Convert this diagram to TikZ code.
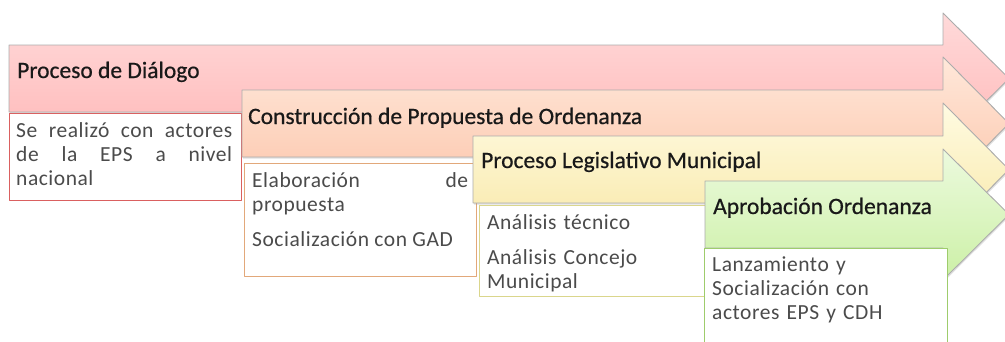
\documentclass[tikz,border=0pt]{standalone}
\usepackage{fontspec}
\setmainfont{Carlito}
\newfontfamily\notefont[LetterSpace=2.5]{Carlito}
\newfontfamily\titlefont[FakeBold=0.6]{Carlito}
\usetikzlibrary{shadows}

\definecolor{redtop}{RGB}{255,218,218}
\definecolor{redbot}{RGB}{255,184,184}
\definecolor{peachtop}{RGB}{255,232,218}
\definecolor{peachbot}{RGB}{252,198,172}
\definecolor{yellowtop}{RGB}{255,251,226}
\definecolor{yellowbot}{RGB}{248,232,168}
\definecolor{greentop}{RGB}{236,250,222}
\definecolor{greenbot}{RGB}{204,240,166}
\definecolor{redline}{RGB}{218,96,96}
\definecolor{peachline}{RGB}{226,168,122}
\definecolor{yellowline}{RGB}{218,214,140}
\definecolor{greenline}{RGB}{158,204,108}
\definecolor{titletext}{RGB}{25,25,25}
\definecolor{notetext}{RGB}{75,75,75}

\begin{document}
\begin{tikzpicture}[x=1pt,y=-1pt,line join=round,
		stage/.style={draw=gray!65,line width=0.9pt,drop shadow={opacity=0.25,shadow xshift=1pt,shadow yshift=-1.5pt}},
		title/.style={anchor=base west,inner sep=0pt,text=titletext,font=\titlefont\fontsize{23.5}{28}\selectfont},
		notebox/.style={anchor=north west,fill=white,line width=1.4pt,minimum width=232pt,inner sep=0pt},
		note/.style={anchor=north west,inner xsep=8pt,inner ysep=9pt,text=notetext,text width=216pt,
			font=\notefont\fontsize{21.5}{24}\selectfont}]
	\useasboundingbox (0,0) rectangle (1005,341);

	% Proceso de Dialogo
	\draw[stage,top color=redtop,bottom color=redbot] (9,45) -- (943,45) -- (943,13) -- (1009,78.5) -- (943,144) -- (943,112) -- (9,112) -- cycle;
	\node[title] (t1) at (17,78) {Proceso de Diálogo};
	\node[notebox,draw=redline,minimum height=87pt] (box1) at (9,113) {};
	\node[note,align=justify,inner xsep=7pt] (n1) at (box1.north west) {Se realizó con actores\linebreak de la EPS a nivel\linebreak nacional};

	% Construccion de Propuesta
	\draw[stage,top color=peachtop,bottom color=peachbot] (242,90) -- (943,90) -- (943,57) -- (1009,123.5) -- (943,190) -- (943,157) -- (242,157) -- cycle;
	\node[title] (t2) at (248,124) {Construcción de Propuesta de Ordenanza};
	\node[notebox,draw=peachline,minimum height=113pt] (box2) at (244,163) {};
	\node[note,align=justify] (n2) at (box2.north west) {Elaboración de\linebreak propuesta\\[11pt]Socialización con GAD};

	% Proceso Legislativo
	\draw[stage,top color=yellowtop,bottom color=yellowbot] (473,136) -- (943,136) -- (943,103) -- (1009,169.5) -- (943,236) -- (943,203) -- (473,203) -- cycle;
	\node[title] (t3) at (481,168) {Proceso Legislativo Municipal};
	\node[notebox,draw=yellowline,minimum height=91pt] (box3) at (479,205) {};
	\node[note,align=left] (n3) at (box3.north west) {Análisis técnico\\[11pt]Análisis Concejo\\Municipal};

	% Aprobacion
	\draw[stage,top color=greentop,bottom color=greenbot] (705,181) -- (943,181) -- (943,149) -- (1009,214.5) -- (943,280) -- (943,248) -- (705,248) -- cycle;
	\node[title] (t4) at (713,214) {Aprobación Ordenanza};
	\node[notebox,draw=greenline,minimum width=243pt,minimum height=110pt] (box4) at (704,248) {};
	\node[note,align=left] (n4) at (box4.north west) {Lanzamiento y\\Socialización con\\actores EPS y CDH};
\end{tikzpicture}
\end{document}
